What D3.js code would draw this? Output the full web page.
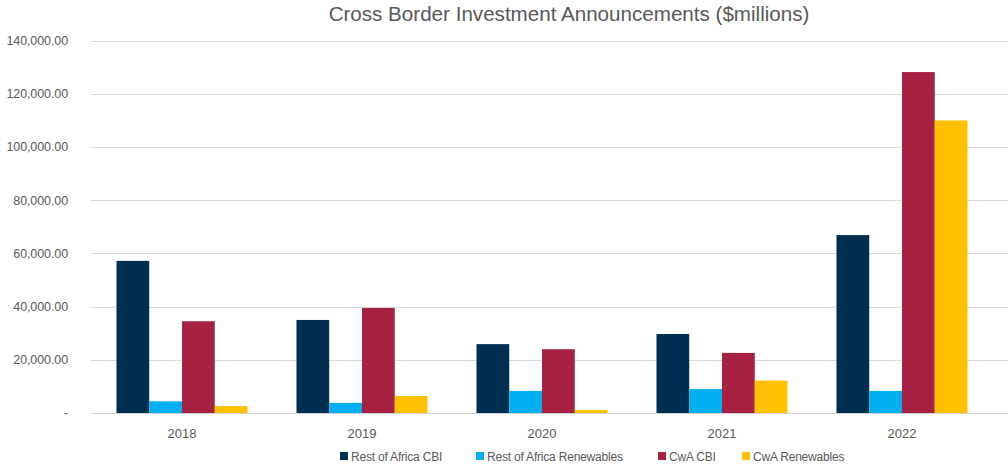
<!DOCTYPE html>
<html>
<head>
<meta charset="utf-8">
<script src="https://cdn.jsdelivr.net/npm/d3@7"></script>
<style>
  body { margin: 0; background: #fff; }
  text { font-family: "Liberation Sans", Arial, sans-serif; fill: #595959; }
</style>
</head>
<body>
<div id="chart"></div>
<script>
var years = ["2018", "2019", "2020", "2021", "2022"];
var seriesNames = ["Rest of Africa CBI", "Rest of Africa Renewables", "CwA CBI", "CwA Renewables"];
var seriesColors = ["#002f52", "#00b0f0", "#a62142", "#ffc000"];
var restCbi = [57200, 35000, 25900, 29700, 66900];
var restRenew = [4400, 3800, 8300, 9000, 8300];
var cwaCbi = [34500, 39500, 24000, 22600, 128200];
var cwaRenew = [2600, 6400, 1100, 12200, 110000];
var yTicks = [0, 20000, 40000, 60000, 80000, 100000, 120000, 140000];

var values = [restCbi, restRenew, cwaCbi, cwaRenew];

var width = 1008, height = 466;

var svg = d3.select("#chart").append("svg")
    .attr("width", width)
    .attr("height", height);

var y = d3.scaleLinear()
    .domain([0, 140000])
    .range([413, 40.7]);

var x = d3.scaleBand()
    .domain(years)
    .range([92, 992])
    .paddingInner(0.272)
    .paddingOuter(0.136);

var xs = d3.scaleBand()
    .domain(d3.range(seriesNames.length))
    .range([0, x.bandwidth()]);

// title
svg.append("text")
    .attr("x", 569)
    .attr("y", 21)
    .attr("text-anchor", "middle")
    .style("font-size", "20.6px")
    .text("Cross Border Investment Announcements ($millions)");

// gridlines
svg.append("g").selectAll("line")
    .data(yTicks.slice(1))
  .enter().append("line")
    .attr("x1", 91)
    .attr("x2", 1008)
    .attr("y1", function(d) { return Math.round(y(d)) + 0.5; })
    .attr("y2", function(d) { return Math.round(y(d)) + 0.5; })
    .style("stroke", "#d9d9d9")
    .style("stroke-width", 1);

// y labels
var fmt = d3.format(",.2f");
svg.append("g").selectAll("text")
    .data(yTicks)
  .enter().append("text")
    .attr("x", 68)
    .attr("y", function(d) { return y(d); })
    .attr("dy", ".35em")
    .attr("text-anchor", "end")
    .style("font-size", "12.5px")
    .style("letter-spacing", "-0.1px")
    .text(function(d) { return d === 0 ? "-" : fmt(d); });

// bars
var group = svg.append("g").selectAll(".year")
    .data(years)
  .enter().append("g")
    .attr("class", "year")
    .attr("transform", function(d) { return "translate(" + x(d) + ",0)"; });

group.selectAll("rect")
    .data(function(d, i) {
      return values.map(function(s, j) { return {s: j, v: s[i]}; });
    })
  .enter().append("rect")
    .attr("x", function(d) { return xs(d.s); })
    .attr("width", xs.bandwidth())
    .attr("y", function(d) { return y(d.v); })
    .attr("height", function(d) { return y(0) - y(d.v); })
    .style("fill", function(d) { return seriesColors[d.s]; });

// x axis line
svg.append("line")
    .attr("x1", 91)
    .attr("x2", 1008)
    .attr("y1", 413.5)
    .attr("y2", 413.5)
    .style("stroke", "#d0d0d0")
    .style("stroke-width", 1.2);

// x labels
svg.append("g").selectAll("text")
    .data(years)
  .enter().append("text")
    .attr("x", function(d) { return x(d) + x.bandwidth() / 2; })
    .attr("y", 438)
    .attr("text-anchor", "middle")
    .style("font-size", "13px")
    .text(function(d) { return d; });

// legend
var legendX = [340, 476, 658, 742];
var legend = svg.append("g");
seriesNames.forEach(function(name, i) {
  var item = legend.append("g").attr("transform", "translate(" + legendX[i] + ",0)");
  item.append("rect")
      .attr("x", 0)
      .attr("y", 452)
      .attr("width", 8)
      .attr("height", 8)
      .style("fill", seriesColors[i]);
  item.append("text")
      .attr("x", 11)
      .attr("y", 461)
      .style("font-size", "12px")
      .style("letter-spacing", "-0.2px")
      .text(name);
});
</script>
</body>
</html>
